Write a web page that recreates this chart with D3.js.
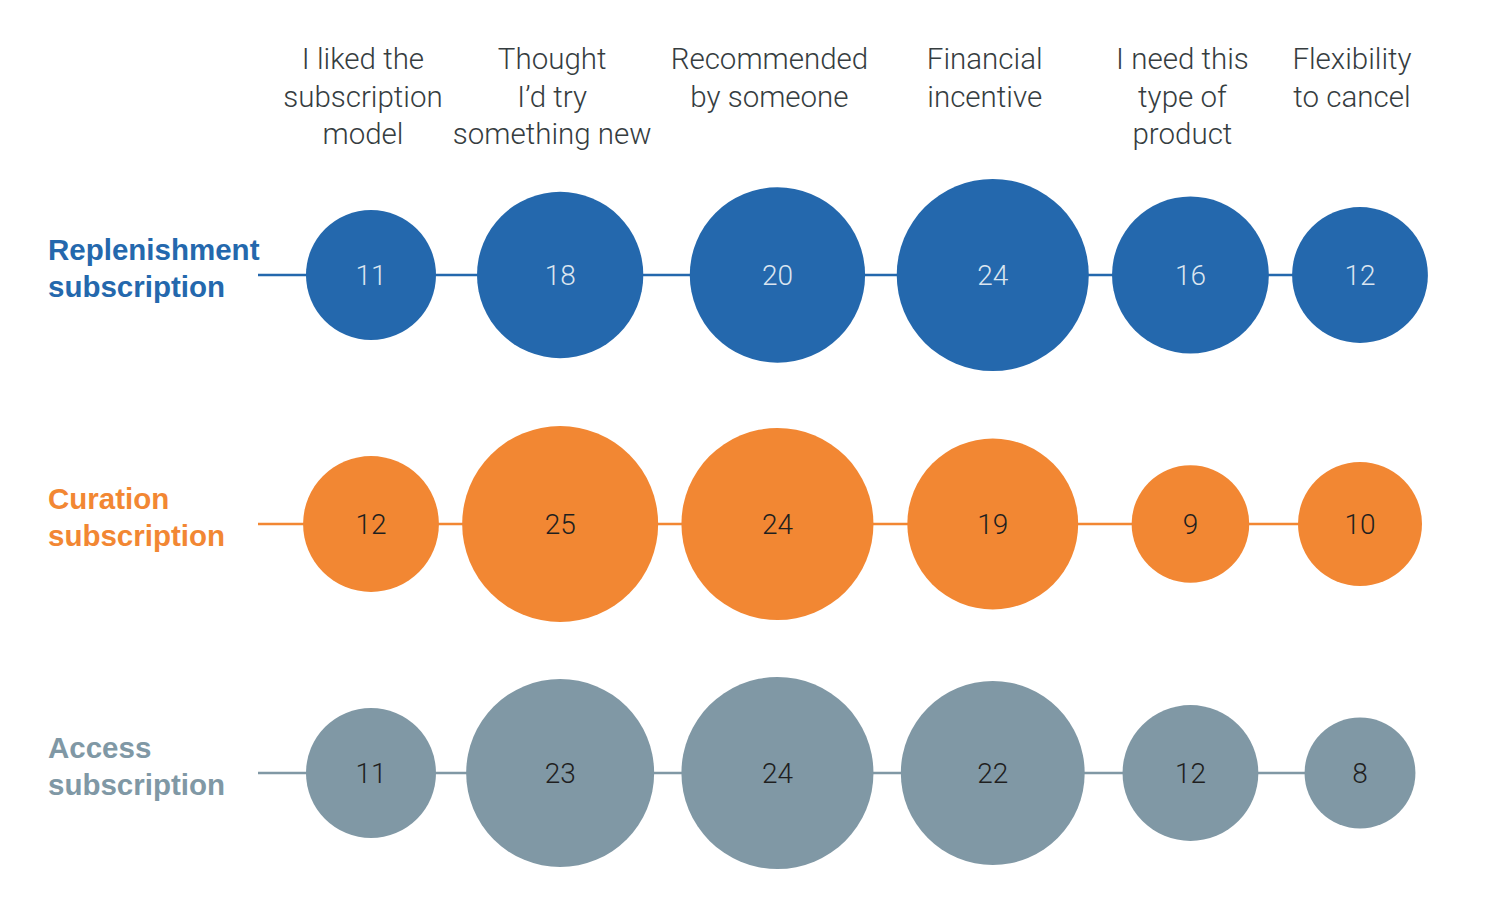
<!DOCTYPE html>
<html>
<head>
<meta charset="utf-8">
<script src="https://cdn.jsdelivr.net/npm/d3@7"></script>
<style>
  html, body { margin: 0; padding: 0; background: #fff; }
  svg { display: block; }
</style>
</head>
<body>
<svg id="chart" width="1492" height="905"></svg>
<script>
// ---- data ----
const categories = [
  ["I liked the", "subscription", "model"],
  ["Thought", "I\u2019d try", "something new"],
  ["Recommended", "by someone"],
  ["Financial", "incentive"],
  ["I need this", "type of", "product"],
  ["Flexibility", "to cancel"]
];
const categoryKeys = categories.map(c => c.join(" "));
const seriesNames = [
  ["Replenishment", "subscription"],
  ["Curation", "subscription"],
  ["Access", "subscription"]
];
const replenishment = [11, 18, 20, 24, 16, 12];
const curation      = [12, 25, 24, 19, 9, 10];
const access        = [11, 23, 24, 22, 12, 8];
const seriesValues = [replenishment, curation, access];
const seriesColors = ["#2468ad", "#f28733", "#8098a5"];
const numberColors = ["#dbe5f0", "#1f1f1f", "#1f1f1f"];

// ---- layout ----
const svg = d3.select("#chart");
const r = d3.scaleSqrt().domain([0, 25]).range([0, 98]);

// column positions: pack columns by their largest bubble, equal gaps
const colMax = categoryKeys.map((k, i) => d3.max(seriesValues, s => r(s[i])));
const xStart = 371, xEnd = 1360;
let pairSum = 0;
for (let i = 1; i < colMax.length; i++) pairSum += colMax[i - 1] + colMax[i];
const gap = ((xEnd - xStart) - pairSum) / (colMax.length - 1);
const colX = [xStart];
for (let i = 1; i < colMax.length; i++) colX.push(colX[i - 1] + colMax[i - 1] + colMax[i] + gap);
const x = d3.scaleOrdinal().domain(categoryKeys).range(colX);
const y = d3.scalePoint().domain(d3.range(seriesNames.length)).range([275, 773]);

// headers
const hdr = svg.append("g");
categories.forEach((lines, i) => {
  const cx = x(categoryKeys[i]) - 8;
  const t = hdr.append("text")
    .attr("x", cx)
    .attr("y", 69)
    .attr("text-anchor", "middle")
    .attr("font-family", "'Helvetica Neue', Roboto, 'Liberation Sans', sans-serif")
    .attr("font-weight", 300)
    .attr("font-size", 29.5)
    .attr("fill", "#363d3f");
  lines.forEach((ln, j) => {
    t.append("tspan").attr("x", cx).attr("dy", j === 0 ? 0 : 37.5).text(ln);
  });
});

// rows
seriesValues.forEach((vals, si) => {
  const g = svg.append("g");
  const cy = y(si);
  g.append("line")
    .attr("x1", 258).attr("x2", x(categoryKeys[categoryKeys.length - 1]))
    .attr("y1", cy).attr("y2", cy)
    .attr("stroke", seriesColors[si]).attr("stroke-width", 2.5);

  const lab = g.append("text")
    .attr("x", 48).attr("y", cy - 15)
    .attr("font-family", "'Liberation Sans', Arial, sans-serif")
    .attr("font-weight", 700)
    .attr("font-size", 29.5)
    .attr("fill", seriesColors[si]);
  seriesNames[si].forEach((ln, j) => {
    lab.append("tspan").attr("x", 48).attr("dy", j === 0 ? 0 : 37).text(ln);
  });

  const nodes = g.selectAll("g.node").data(vals).join("g")
    .attr("class", "node")
    .attr("transform", (d, i) => `translate(${x(categoryKeys[i])},${cy})`);
  nodes.append("circle").attr("r", d => r(d)).attr("fill", seriesColors[si]);
  nodes.append("text")
    .attr("text-anchor", "middle")
    .attr("y", 10)
    .attr("font-family", "'Helvetica Neue', Roboto, 'Liberation Sans', sans-serif")
    .attr("font-weight", 300)
    .attr("font-size", 28)
    .attr("fill", numberColors[si])
    .text(d => d);
});
</script>
</body>
</html>
